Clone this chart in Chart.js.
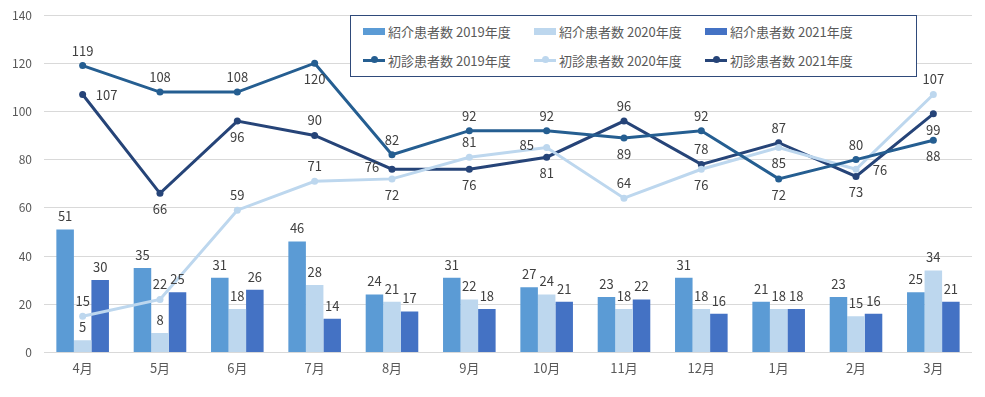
<!DOCTYPE html>
<html><head><meta charset="utf-8">
<script src="https://cdn.jsdelivr.net/npm/chart.js@4"></script>
<style>
html,body{margin:0;padding:0;background:#fff;}
#wrap{position:relative;width:985px;height:397px;}
#legend{position:absolute;left:350px;top:15px;width:567px;height:62px;border:1.5px solid #2F4A7A;background:#fff;box-sizing:border-box;font-family:"Noto Sans CJK JP","Noto Sans",sans-serif;font-size:13px;color:#595959;}
.item{position:absolute;display:flex;align-items:center;height:18px;white-space:nowrap;}
.sw{display:inline-block;width:22px;margin-right:3px;position:relative;}
</style></head>
<body><div id="wrap"><canvas id="c" width="985" height="397"></canvas><div id="legend"></div></div>
<script>
const months = ['4月','5月','6月','7月','8月','9月','10月','11月','12月','1月','2月','3月'];
const ref2019 = [51,35,31,46,24,31,27,23,31,21,23,25];
const ref2020 = [5,8,18,28,21,22,24,18,18,18,15,34];
const ref2021 = [30,25,26,14,17,18,21,22,16,18,16,21];
const first2019 = [119,108,108,120,82,92,92,89,92,72,80,88];
const first2020 = [15,22,59,71,72,81,85,64,76,85,76,107];
const first2021 = [107,66,96,90,76,76,81,96,78,87,73,99];
const seriesNames = ['紹介患者数 2019年度','紹介患者数 2020年度','紹介患者数 2021年度','初診患者数 2019年度','初診患者数 2020年度','初診患者数 2021年度'];
// label placement: a=above, b=below, l=left, r=right
const pos2019 = ['a','a','a','b','a','a','a','b','a','b','a','b'];
const pos2020 = ['a','a','a','a','b','a','l','a','b','b','r','a'];
const pos2021 = ['r','b','b','a','l','b','b','a','a','a','b','b'];

const barColors = ['#5B9BD5','#BDD7EE','#4472C4'];
const lineColors = ['#255E91','#BDD7EE','#264478'];
const font = '"Noto Sans CJK JP","Noto Sans",sans-serif';

const labelPlugin = {
  id:'labels',
  afterDatasetsDraw(chart){
    const ctx = chart.ctx;
    ctx.save();
    ctx.font = '13px ' + font;
    ctx.fillStyle = '#404040';
    ctx.textAlign = 'center';
    ctx.textBaseline = 'middle';
    chart.data.datasets.forEach((ds,di)=>{
      const meta = chart.getDatasetMeta(di);
      meta.data.forEach((el,i)=>{
        let x = el.x, y = el.y;
        const p = ds.labelPos ? ds.labelPos[i] : 'a';
        if (ds.type === 'bar') { y -= 13; }
        else if (p==='a') y -= 15;
        else if (p==='b') y += 16;
        else if (p==='l') { x -= 20; y -= 2; }
        else if (p==='r') { x += 24; y += 1; }
        ctx.fillText(String(ds.data[i]), x, y);
      });
    });
    ctx.restore();
  }
};

const bars = [ref2019,ref2020,ref2021].map((d,k)=>({
  type:'bar', label:seriesNames[k], data:d, backgroundColor:barColors[k],
  order:2, categoryPercentage:0.68, barPercentage:1.0
}));
const lines = [[first2019,pos2019],[first2020,pos2020],[first2021,pos2021]].map((p,k)=>({
  type:'line', label:seriesNames[k+3], data:p[0], labelPos:p[1],
  borderColor:lineColors[k], backgroundColor:lineColors[k],
  borderWidth:3, pointRadius:3.5, pointBorderWidth:0, tension:0, order:1
}));

new Chart(document.getElementById('c'), {
  data:{labels:months, datasets:[...bars, ...lines]},
  options:{
    responsive:false, animation:false,
    layout:{padding:{left:0,right:13,top:0,bottom:21}},
    plugins:{legend:{display:false}, tooltip:{enabled:false}},
    scales:{
      x:{grid:{display:false}, border:{display:false},
         ticks:{color:'#595959', font:{family:font,size:13}, padding:0}},
      y:{min:0,max:140, ticks:{stepSize:20,color:'#595959',font:{family:font,size:12,lineHeight:0.5},padding:12},
         grid:{color:'#D9D9D9',lineWidth:1, drawTicks:false}, border:{display:false}}
    }
  },
  plugins:[labelPlugin]
});

// legend
const lg = document.getElementById('legend');
const colX = [12,183,354];
seriesNames.forEach((n,k)=>{
  const row = Math.floor(k/3), col = k%3;
  const it = document.createElement('div');
  it.className='item';
  it.style.left = colX[col]+'px';
  it.style.top = (row===0? 6 : 35)+'px';
  const sw = document.createElement('span');
  sw.className='sw';
  if (row===0){
    sw.style.height='7px'; sw.style.background=barColors[col];
  } else {
    sw.style.height='3px'; sw.style.background=lineColors[col];
    const dot=document.createElement('span');
    dot.style.cssText='position:absolute;left:8px;top:-2.5px;width:7px;height:7px;border-radius:50%;background:'+lineColors[col];
    sw.appendChild(dot);
  }
  const t=document.createElement('span'); t.textContent=n;
  it.appendChild(sw); it.appendChild(t); lg.appendChild(it);
});
</script></body></html>
